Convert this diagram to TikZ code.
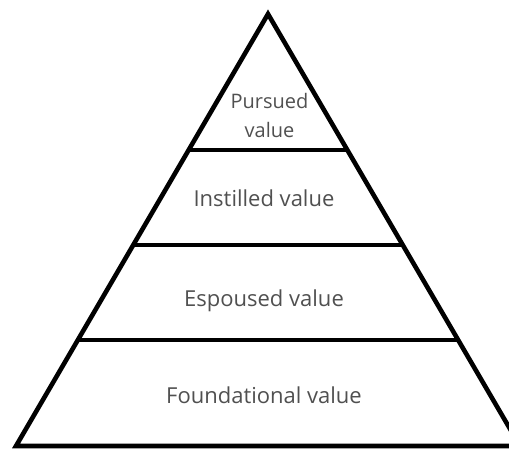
\documentclass[tikz,border=0pt]{standalone}
\usepackage{fontspec}
\setmainfont{Open Sans}
\usetikzlibrary{calc}
\definecolor{labelgray}{HTML}{505050}
\tikzset{
  edge/.style={line width=4.6pt, black},
  layerlabel/.style={text=labelgray, font=\fontsize{22}{29}\selectfont, align=center, inner sep=0pt, anchor=base}
}
\begin{document}
\begin{tikzpicture}[x=1pt,y=-1pt]
\useasboundingbox (0,0) rectangle (509,448);
\clip (0,0) rectangle (509,448);
\coordinate (apex) at (268,14);
\coordinate (bl) at (16,446);
\coordinate (br) at (520,446);
\coordinate (l1) at ($(apex)!0.3148!(bl)$);
\coordinate (r1) at ($(apex)!0.3148!(br)$);
\coordinate (l2) at ($(apex)!0.5347!(bl)$);
\coordinate (r2) at ($(apex)!0.5347!(br)$);
\coordinate (l3) at ($(apex)!0.7546!(bl)$);
\coordinate (r3) at ($(apex)!0.7546!(br)$);
\draw[edge] (apex) -- (bl) -- (br) -- cycle;
\draw[edge] (l1) -- (r1);
\draw[edge] (l2) -- (r2);
\draw[edge] (l3) -- (r3);
\node[layerlabel, font=\fontsize{20}{29}\selectfont] (pursued) at (269.5,137) {Pursued\\value};
\node[layerlabel] (instilled) at (264,206) {Instilled value};
\node[layerlabel] (espoused) at (264,306) {Espoused value};
\node[layerlabel] (foundational) at (264,403) {Foundational value};
\end{tikzpicture}
\end{document}
